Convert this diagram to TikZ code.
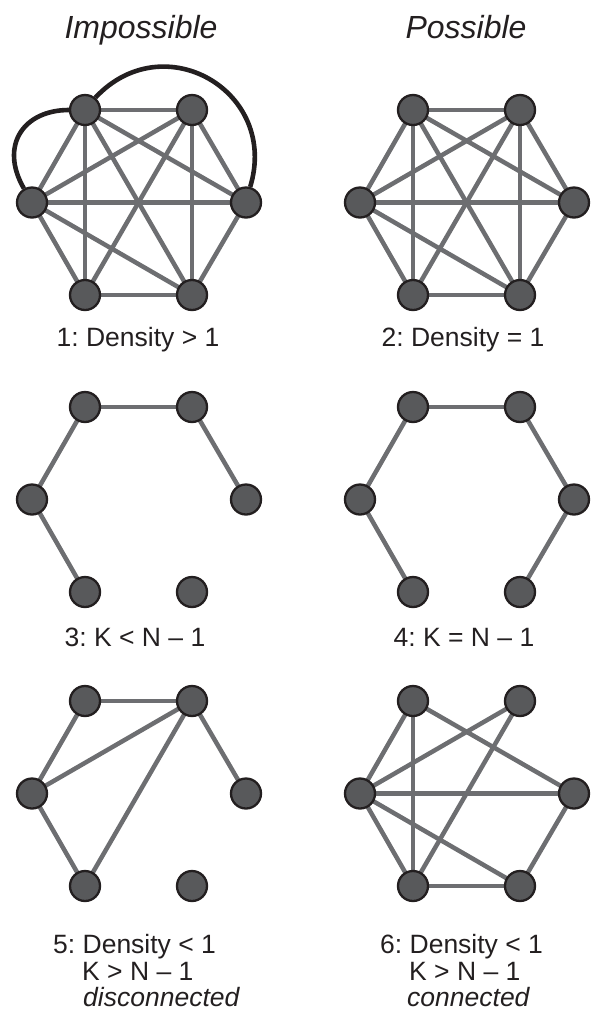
\documentclass[tikz,border=0pt]{standalone}
\usepackage{fontspec}
\setmainfont{Liberation Sans}
\usetikzlibrary{backgrounds}
\definecolor{edgegray}{HTML}{6D6E71}
\definecolor{nodefill}{HTML}{58595B}
\definecolor{ink}{HTML}{231F20}
\tikzset{
  vtx/.style={circle, fill=nodefill, draw=ink, line width=2.3pt, minimum size=30pt, inner sep=0pt},
  edge/.style={draw=edgegray, line width=4.5pt},
  curveedge/.style={draw=ink, line width=4.6pt},
  lab/.style={font=\frenchspacing\fontsize{26.5}{30}\selectfont, text=ink, inner sep=0pt},
  title/.style={font=\fontsize{32}{36}\selectfont\itshape, text=ink, inner sep=0pt},
}
\newcommand\hexg[3]{%
  \node[vtx] (#1tl) at ({#2+85},{-(#3)}) {};
  \node[vtx] (#1tr) at ({#2+192},{-(#3)}) {};
  \node[vtx] (#1l) at ({#2+32},{-(#3+92.5)}) {};
  \node[vtx] (#1r) at ({#2+246},{-(#3+92.5)}) {};
  \node[vtx] (#1bl) at ({#2+85},{-(#3+185)}) {};
  \node[vtx] (#1br) at ({#2+192},{-(#3+185)}) {};
}
\begin{document}
\begin{tikzpicture}[x=1pt,y=1pt]
\useasboundingbox (0,0) rectangle (594,-1021);
% titles
\node[title, anchor=base] (t1) at (141,-38) {Impossible};
\node[title, anchor=base] (t2) at (466,-38) {Possible};
% nodes
\hexg{A}{0}{110}
\hexg{B}{328}{110}
\hexg{C}{0}{407}
\hexg{D}{328}{407}
\hexg{E}{0}{701}
\hexg{F}{328}{701}
\begin{pgfonlayer}{background}
\foreach \g in {A,B}{
  \foreach \u/\v in {tl/tr,tl/l,tl/bl,tl/br,tl/r,tr/l,tr/bl,tr/br,tr/r,l/r,l/bl,l/br,bl/br,r/br}
    \draw[edge] (\g\u.center) -- (\g\v.center);
}
\foreach \u/\v in {tl/tr,tl/l,l/bl,tr/r}
  \draw[edge] (C\u.center) -- (C\v.center);
\foreach \u/\v in {tl/tr,tl/l,l/bl,tr/r,r/br}
  \draw[edge] (D\u.center) -- (D\v.center);
\foreach \u/\v in {tl/tr,tl/l,l/tr,l/bl,bl/tr,tr/r}
  \draw[edge] (E\u.center) -- (E\v.center);
\foreach \u/\v in {tl/l,tl/bl,tl/r,tr/l,tr/bl,l/r,l/bl,l/br,bl/br,r/br}
  \draw[edge] (F\u.center) -- (F\v.center);
% extra curved edges
\draw[curveedge] (Atl.180) .. controls +(180:45) and +(120:50) .. (Al.120);
\draw[curveedge] (Atl.50) .. controls +(47:100) and +(73:100) .. (Ar.75);
\end{pgfonlayer}
% labels
\node[lab, anchor=base] (l1) at (138,-346) {1: Density > 1};
\node[lab, anchor=base] (l2) at (463,-346) {2: Density = 1};
\node[lab, anchor=base] (l3) at (135,-646) {3: K < N \textendash\ 1};
\node[lab, anchor=base] (l4) at (464,-646) {4: K = N \textendash\ 1};
\node[lab, anchor=base west] (l5a) at (53,-953) {5: Density < 1};
\node[lab, anchor=base west] (l5b) at (82,-980) {K > N \textendash\ 1};
\node[lab, anchor=base west] (l5c) at (83,-1006) {\itshape disconnected};
\node[lab, anchor=base west] (l6a) at (380,-953) {6: Density < 1};
\node[lab, anchor=base west] (l6b) at (409,-980) {K > N \textendash\ 1};
\node[lab, anchor=base west] (l6c) at (407,-1006) {\itshape connected};
\end{tikzpicture}
\end{document}
